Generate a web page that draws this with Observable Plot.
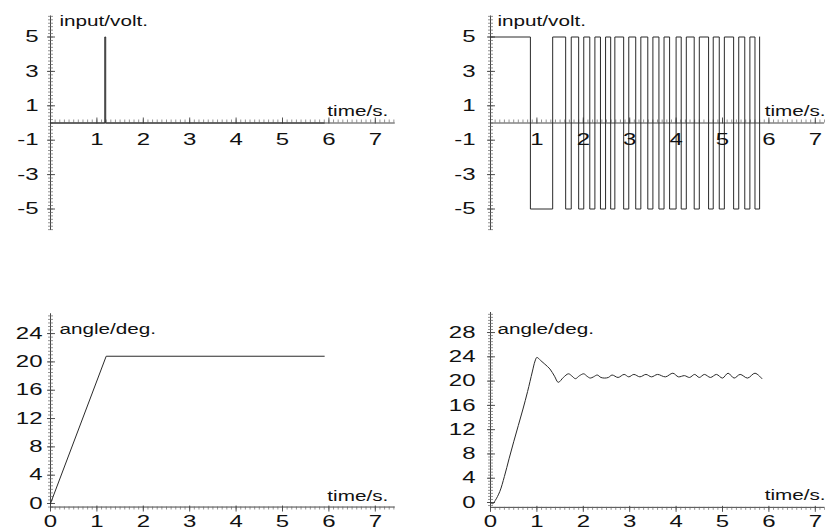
<!DOCTYPE html>
<html><head><meta charset="utf-8">
<script src="https://cdn.jsdelivr.net/npm/d3@7"></script>
<script src="https://cdn.jsdelivr.net/npm/@observablehq/plot@0.6"></script>
<style>
html,body{margin:0;padding:0;background:#fff;}
#wrap{position:relative;width:825px;height:529px;overflow:hidden;background:#fff;}
#wrap svg{position:absolute;}
</style></head><body><div id="wrap"></div>
<script>
// ---------- data ----------
// top-left: single input pulse (volt)
const pulseTime = [0, 1.17, 1.17, 1.19, 1.19, 5.9];
const pulseVolt = [0, 0, 5, 5, 0, 0];
// top-right: switching input (volt), level held after each switch time
const switchTime = [0, 0.86, 1.34, 1.62, 1.74, 1.90, 2.01, 2.14, 2.25, 2.37, 2.48, 2.59, 2.68, 2.87, 2.98, 3.13, 3.24, 3.39, 3.50, 3.63, 3.74, 3.86, 4.00, 4.11, 4.22, 4.39, 4.50, 4.70, 4.80, 4.93, 5.04, 5.24, 5.35, 5.48, 5.59, 5.70, 5.80];
const switchVolt = [5, -5, 5, -5, 5, -5, 5, -5, 5, -5, 5, -5, 5, -5, 5, -5, 5, -5, 5, -5, 5, -5, 5, -5, 5, -5, 5, -5, 5, -5, 5, -5, 5, -5, 5, -5, 5];
// bottom-left: angle response (deg)
const rampTime = [0, 1.2, 5.9];
const rampAngle = [0, 20.8, 20.8];
// bottom-right: angle response (deg)
const respTime = [0, 0.05, 0.1, 0.2, 0.3, 0.4, 0.5, 0.6, 0.7, 0.8, 0.9, 0.96, 1.0, 1.08, 1.17, 1.28, 1.38, 1.46, 1.57, 1.68, 1.76, 1.83, 1.92, 2.01, 2.08, 2.15, 2.22, 2.30, 2.38, 2.46, 2.54, 2.62, 2.75, 2.88, 2.98, 3.09, 3.22, 3.35, 3.47, 3.60, 3.77, 3.93, 4.05, 4.18, 4.29, 4.40, 4.50, 4.61, 4.74, 4.87, 5.00, 5.12, 5.25, 5.38, 5.54, 5.70, 5.85];
const respAngle = [0, -0.2, 0.3, 1.8, 4.3, 7.2, 10.0, 12.7, 15.4, 18.3, 21.5, 23.3, 23.9, 23.4, 22.8, 22.0, 20.8, 19.8, 20.6, 21.2, 20.8, 20.4, 20.9, 21.2, 20.8, 20.5, 20.7, 21.0, 20.6, 20.5, 20.6, 21.0, 20.6, 21.1, 20.7, 21.1, 20.7, 21.1, 20.7, 21.1, 20.7, 21.3, 20.7, 20.9, 20.6, 21.1, 20.6, 21.1, 20.6, 21.1, 20.5, 21.3, 20.5, 21.1, 20.5, 21.3, 20.4];
// tick labels
const timeTicksTop = [1, 2, 3, 4, 5, 6, 7];
const timeTicksBottom = [0, 1, 2, 3, 4, 5, 6, 7];
const voltTicks = [5, 3, 1, -1, -3, -5];
const voltTickLabels = ["5", "3", "1", "-1", "-3", "-5"];
const angleTicksLeft = [0, 4, 8, 12, 16, 20, 24];
const angleTicksRight = [0, 4, 8, 12, 16, 20, 24, 28];
const inputLabel = "input/volt.";
const angleLabel = "angle/deg.";
const timeLabel = "time/s.";

// ---------- layout ----------
const PX_X = 46.4;
const FONT = "'Liberation Sans', Arial, Helvetica, sans-serif";
const INK = "#111";
const AX = "#444";

const panels = [
  {left: 0, top: 0, width: 412, height: 255, x0: 50, xMax: 7.43, yZero: 122.5, pxY: 17.2, yDomain: [-6.25, 6.22],
   xAxisAt: 0, tickUp: true, yStep: 0.2, yMajor: voltTicks, yLabels: voltTickLabels, xTicks: timeTicksTop,
   yLabelDx: -12, xLabelDy: 10.5, title: inputLabel, titleDx: 9, titleDy: 10, timeDx: -7, timeDy: -7.5,
   t: pulseTime, v: pulseVolt, curve: "linear"},
  {left: 412, top: 0, width: 413, height: 255, x0: 490, xMax: 7.2, yZero: 122.5, pxY: 17.2, yDomain: [-6.25, 6.22],
   xAxisAt: 0, tickUp: true, yStep: 0.2, yMajor: voltTicks, yLabels: voltTickLabels, xTicks: timeTicksTop,
   yLabelDx: -15, xLabelDy: 10.5, title: inputLabel, titleDx: 7, titleDy: 10, timeDx: 1, timeDy: -7.5,
   t: switchTime, v: switchVolt, curve: "step-after"},
  {left: 0, top: 255, width: 412, height: 274, x0: 50, xMax: 7.43, yZero: 503, pxY: 7.08, yDomain: [-0.5, 26.8],
   xAxisAt: -0.5, tickUp: false, yStep: 0.5, yMajor: angleTicksLeft, yLabels: angleTicksLeft.map(String), xTicks: timeTicksBottom,
   yLabelDx: -8, xLabelDy: 8.5, title: angleLabel, titleDx: 9, titleDy: 20, timeDx: -7, timeDy: -6.5,
   t: rampTime, v: rampAngle, curve: "linear"},
  {left: 412, top: 255, width: 413, height: 274, x0: 490, xMax: 7.2, yZero: 502, pxY: 6.07, yDomain: [-0.8, 31.3],
   xAxisAt: -0.8, tickUp: false, yStep: 0.5, yMajor: angleTicksRight, yLabels: angleTicksRight.map(String), xTicks: timeTicksBottom,
   yLabelDx: -15, xLabelDy: 8.5, title: angleLabel, titleDx: 7, titleDy: 21.5, timeDx: 1, timeDy: -7,
   t: respTime, v: respAngle, curve: "catmull-rom"}
];

function stretchText(svg) {
  svg.querySelectorAll("text").forEach(t => {
    const s = /^-?\d+$/.test(t.textContent.trim()) ? 1.5 : 1.38;
    const tr = t.getAttribute("transform");
    if (tr) {
      t.setAttribute("transform", tr + ` scale(${s},1)`);
    } else {
      const x = t.getAttribute("x") || 0;
      t.removeAttribute("x");
      t.setAttribute("transform", `translate(${x},0) scale(${s},1)`);
    }
  });
}

const wrap = document.getElementById("wrap");
for (const p of panels) {
  const marginLeft = p.x0 - p.left;
  const marginRight = p.left + p.width - (p.x0 + p.xMax * PX_X);
  const yTopPx = p.yZero - p.yDomain[1] * p.pxY;
  const yBotPx = p.yZero - p.yDomain[0] * p.pxY;
  const marginTop = yTopPx - p.top;
  const marginBottom = p.top + p.height - yBotPx;
  const xMinor = d3.range(0, p.xMax + 1e-9, 0.1).map(d => Math.round(d * 10) / 10);
  const xInts = d3.range(0, Math.floor(p.xMax) + 1);
  const yMinor = d3.range(Math.ceil(p.yDomain[0] / p.yStep) * p.yStep, p.yDomain[1], p.yStep);
  const up = p.tickUp;
  const svg = Plot.plot({
    width: p.width, height: p.height,
    marginLeft, marginRight, marginTop, marginBottom,
    x: {domain: [0, p.xMax], axis: null},
    y: {domain: p.yDomain, axis: null},
    style: {background: "transparent", overflow: "visible", fontFamily: FONT, color: INK},
    marks: [
      // y axis ruler
      Plot.ruleX([0], {y1: p.yDomain[0], y2: p.yDomain[1], stroke: AX, strokeWidth: 1}),
      Plot.ruleY(yMinor, {y: d => d, x1: 0, x2: 0, insetLeft: -2, insetRight: -3, stroke: "#666", strokeWidth: 0.7}),
      Plot.ruleY(p.yMajor, {y: d => d, x1: 0, x2: 0, insetLeft: -3, insetRight: -5, stroke: AX, strokeWidth: 0.9}),
      // x axis ruler
      Plot.ruleY([p.xAxisAt], {x1: 0, x2: p.xMax, stroke: AX, strokeWidth: 1}),
      Plot.ruleX(xMinor, {x: d => d, y1: p.xAxisAt, y2: p.xAxisAt, insetTop: up ? -3 : 0, insetBottom: up ? 0 : -3, stroke: "#666", strokeWidth: 0.7}),
      Plot.ruleX(xInts, {x: d => d, y1: p.xAxisAt, y2: p.xAxisAt, insetTop: up ? -5 : -1, insetBottom: up ? -1 : -5, stroke: AX, strokeWidth: 0.9}),
      // data
      Plot.line(p.t, {x: p.t, y: p.v, curve: p.curve, stroke: "#2a2a2a", strokeWidth: 1}),
      // tick labels
      Plot.text(p.yMajor, {x: 0, y: d => d, text: (d, i) => p.yLabels[i], textAnchor: "end", lineAnchor: "middle", dx: p.yLabelDx, fontSize: 16, fill: INK, fontFamily: FONT}),
      Plot.text(p.xTicks, {x: d => d, y: p.xAxisAt, text: d => String(d), textAnchor: "middle", lineAnchor: "top", dy: p.xLabelDy, fontSize: 16, fill: INK, fontFamily: FONT}),
      // axis names
      Plot.text([p.title], {x: 0, y: p.yDomain[1], text: d => d, textAnchor: "start", lineAnchor: "bottom", dx: p.titleDx, dy: p.titleDy, fontSize: 15, fill: INK, fontFamily: FONT}),
      Plot.text([timeLabel], {x: p.xMax, y: p.xAxisAt, text: d => d, textAnchor: "end", lineAnchor: "bottom", dx: p.timeDx, dy: p.timeDy, fontSize: 15, fill: INK, fontFamily: FONT})
    ]
  });
  svg.style.left = p.left + "px";
  svg.style.top = p.top + "px";
  stretchText(svg);
  wrap.appendChild(svg);
}
</script>
</body></html>
